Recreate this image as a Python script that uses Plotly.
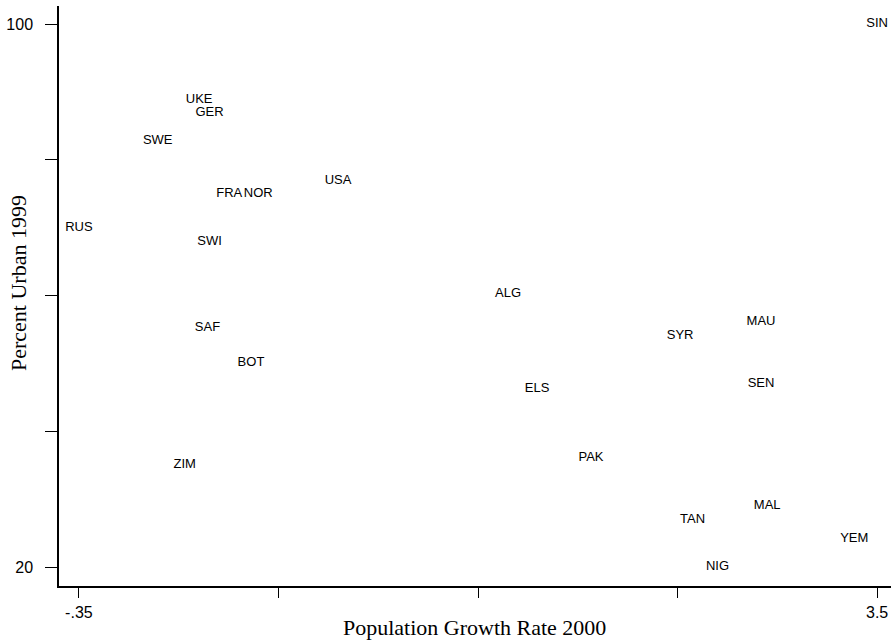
import plotly.graph_objects as go

countries = ["SIN", "UKE", "GER", "SWE", "FRA", "NOR", "USA", "RUS", "SWI",
             "SAF", "BOT", "ZIM", "ALG", "ELS", "PAK", "SYR", "MAU", "SEN",
             "TAN", "MAL", "YEM", "NIG"]
pop_growth_2000 = [3.50, 0.23, 0.28, 0.03, 0.375, 0.515, 0.90, -0.35, 0.28,
                   0.27, 0.48, 0.16, 1.72, 1.86, 2.12, 2.55, 2.94, 2.94,
                   2.61, 2.97, 3.39, 2.73]
pct_urban_1999 = [100.0, 88.9, 86.9, 82.8, 75.0, 75.0, 76.9, 70.0, 68.0,
                  55.2, 50.1, 35.0, 60.2, 46.2, 36.1, 54.1, 56.1, 47.0,
                  27.0, 29.0, 24.1, 20.0]

x_tickvals = [-0.35, 0.6125, 1.575, 2.5375, 3.5]
x_ticktext = ["-.35", "", "", "", "3.5"]
y_tickvals = [20, 40, 60, 80, 100]
y_ticktext = ["20", "", "", "", "100"]

x_title = "Population Growth Rate 2000"
y_title = "Percent Urban 1999"

fig = go.Figure()
fig.add_trace(go.Scatter(
    x=pop_growth_2000, y=pct_urban_1999, text=countries,
    mode="text", textposition="middle center", cliponaxis=False,
    textfont=dict(family="Liberation Sans, Arial, sans-serif", size=13, color="#000000"),
    hoverinfo="text", showlegend=False,
))

axis_common = dict(showgrid=False, zeroline=False, showline=True,
                   linecolor="black", linewidth=1.5, ticks="outside",
                   tickcolor="black", tickwidth=1.2,
                   tickfont=dict(family="Liberation Sans, Arial, sans-serif", size=16, color="black"))

fig.update_layout(
    width=891, height=642,
    margin=dict(l=59, r=0, t=6, b=56, autoexpand=False),
    paper_bgcolor="white", plot_bgcolor="white",
    xaxis=dict(range=[-0.446, 3.567], tickvals=x_tickvals, ticktext=x_ticktext,
               ticklen=10, ticklabelstandoff=1, **axis_common),
    yaxis=dict(range=[17.2, 102.68], tickvals=y_tickvals, ticktext=y_ticktext,
               ticklen=12, ticklabelstandoff=9, **axis_common),
    annotations=[
        dict(text=x_title, xref="paper", yref="paper", x=0.4988, y=0,
             xanchor="center", yanchor="middle", yshift=-41, showarrow=False,
             font=dict(family="Liberation Serif, Times New Roman, serif", size=22, color="black")),
        dict(text=y_title, xref="paper", yref="paper", x=0, y=0.5, textangle=-90,
             xanchor="center", yanchor="middle", xshift=-41, yshift=13, showarrow=False,
             font=dict(family="Liberation Serif, Times New Roman, serif", size=22, color="black")),
    ],
)

fig.write_html(
    "out.html",
    config={"displayModeBar": False},
    post_script="document.body.style.margin='0';document.body.style.overflow='hidden';",
)
